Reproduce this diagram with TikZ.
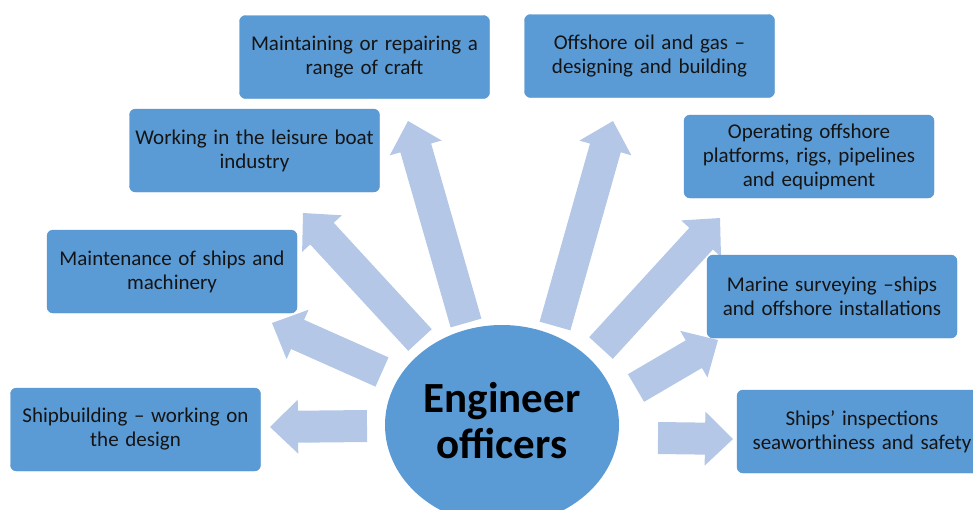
\documentclass[tikz,border=0pt]{standalone}
\usepackage{fontspec}
\setmainfont{Carlito}[WordSpace=1.4]
\usetikzlibrary{calc,positioning,shapes.geometric}

\definecolor{boxblue}{HTML}{5B9BD5}
\definecolor{arrowblue}{HTML}{B4C7E7}

\tikzset{
    careerbox/.style={rectangle, rounded corners=6pt, fill=boxblue, draw=boxblue!95!black,
        minimum width=250pt, minimum height=83pt, align=center, text=black!92,
        font=\fontsize{21}{24}\selectfont},
    centre/.style={ellipse, fill=boxblue, minimum width=234pt, minimum height=200pt,
        align=center, text depth=10pt, font=\fontsize{43}{46}\selectfont\bfseries},
}

\begin{document}
\begin{tikzpicture}[x=1pt,y=-1pt]
    % page frame 973x509, clipped at the edges
    \useasboundingbox (0,0) rectangle (973,509);
    \clip (0,0) rectangle (973,509);

    % arrow ends: tails at the ellipse, tips at the boxes
    \coordinate (t1) at (367,426); \coordinate (h1) at (270,427);
    \coordinate (t2) at (382,372); \coordinate (h2) at (272,323);
    \coordinate (t3) at (420,340); \coordinate (h3) at (303,213);
    \coordinate (t4) at (466,323); \coordinate (h4) at (408,121);
    \coordinate (t5) at (555,326); \coordinate (h5) at (613,121);
    \coordinate (t6) at (601,348); \coordinate (h6) at (720,218);
    \coordinate (t7) at (636,388); \coordinate (h7) at (718,340);
    \coordinate (t8) at (658,438); \coordinate (h8) at (733,439);

    % block arrows, shaft 32, head 54 wide and 28 long
    \foreach \i in {1,...,8}{
        \coordinate (b\i) at ($(h\i)!28pt!(t\i)$);
        \fill[arrowblue] ($(t\i)!16pt!90:(h\i)$) -- ($(b\i)!16pt!90:(h\i)$)
            -- ($(b\i)!27pt!90:(h\i)$) -- (h\i) -- ($(b\i)!27pt!-90:(h\i)$)
            -- ($(b\i)!16pt!-90:(h\i)$) -- ($(t\i)!16pt!-90:(h\i)$) -- cycle;
    }

    % centre ellipse
    \node[centre] (eng) at (502,425) {Engineer\\officers};

    % left side boxes
    \node[careerbox] (ship) at (135.5,429.5) {Shipbuilding – working on\\the design};
    \node[careerbox] (maint) at (172,271.5) {Maintenance of ships and\\machinery};
    \node[careerbox] (leisure) at (254.5,150.5) {Working in the leisure boat\\industry};
    \node[careerbox] (repair) at (364.5,57) {Maintaining or repairing a\\range of craft};

    % right side boxes
    \node[careerbox] (oilgas) at (649.5,56) {Offshore oil and gas –\\designing and building};
    \node[careerbox] (operate) at (809,156.5) {Operating offshore\\platforms, rigs, pipelines\\and equipment};
    \node[careerbox] (survey) at (832,296.5) {Marine surveying –ships\\and offshore installations};
    \node[careerbox] (inspect) at (862,431.5) {Ships’ inspections\\seaworthiness and safety};
\end{tikzpicture}
\end{document}
